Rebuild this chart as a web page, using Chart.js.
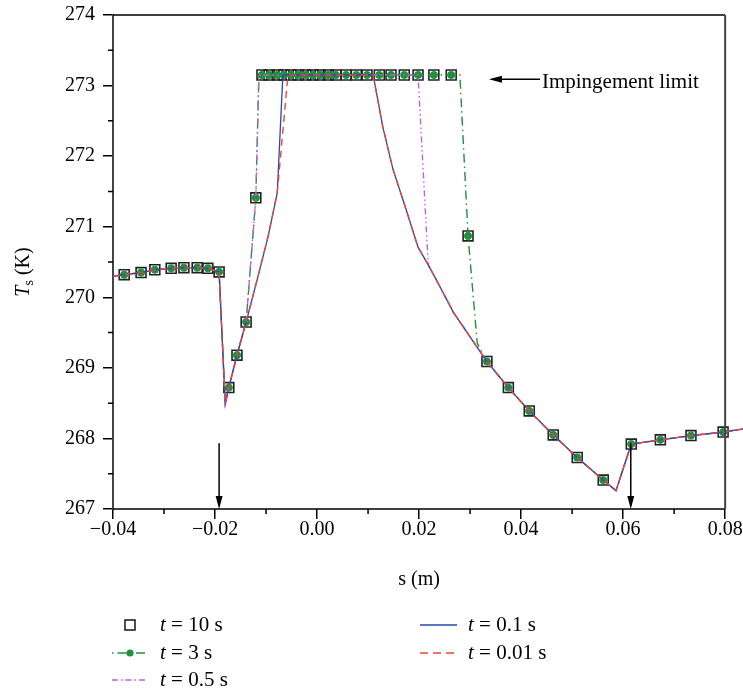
<!DOCTYPE html>
<html>
  <head>
    <meta charset="utf-8">
    <title>Ts vs s</title>
    <script src="https://cdn.jsdelivr.net/npm/chart.js"></script>
    <style>
      body { margin: 0; background: #fff; }
    </style>
  </head>
  <body>
    <canvas id="myChart" width="743" height="691"></canvas>
    <script>
      // t = 10 s (marcadores)
      const sMark = [-0.0378, -0.0345, -0.0318, -0.0286, -0.0261, -0.0235, -0.0214, -0.0192,
        -0.0173, -0.0157, -0.0139, -0.0120,
        -0.0108, -0.0094, -0.0078, -0.0065, -0.0051, -0.0037, -0.0022, -0.0008, 0.0006, 0.0022,
        0.0037, 0.0057, 0.0077, 0.0098, 0.0122, 0.0145, 0.0171, 0.0198, 0.0229, 0.0263,
        0.0296, 0.0333, 0.0375, 0.0416, 0.0463, 0.0510, 0.0561, 0.0616, 0.0673, 0.0733, 0.0796];
      const tMark = [270.32, 270.35, 270.39, 270.41, 270.42, 270.42, 270.41, 270.36,
        268.72, 269.18, 269.65, 271.41,
        273.15, 273.15, 273.15, 273.15, 273.15, 273.15, 273.15, 273.15, 273.15, 273.15,
        273.15, 273.15, 273.15, 273.15, 273.15, 273.15, 273.15, 273.15, 273.15, 273.15,
        270.87, 269.09, 268.72, 268.39, 268.05, 267.73, 267.41, 267.92, 267.98, 268.04, 268.09];

      // t = 3 s
      const s3 = [-0.0400, -0.0378, -0.0345, -0.0318, -0.0286, -0.0261, -0.0235, -0.0214, -0.0192, -0.0180,
        -0.0173, -0.0157, -0.0139, -0.0120, -0.0114,
        -0.0108, -0.0094, -0.0078, -0.0065, -0.0051, -0.0037, -0.0022, -0.0008, 0.0006, 0.0022,
        0.0037, 0.0057, 0.0077, 0.0098, 0.0122, 0.0145, 0.0171, 0.0198, 0.0229, 0.0263,
        0.0280, 0.0296, 0.0314, 0.0333, 0.0375, 0.0416, 0.0463, 0.0510, 0.0561, 0.0586,
        0.0616, 0.0673, 0.0733, 0.0796, 0.0840];
      const t3 = [270.30, 270.32, 270.35, 270.39, 270.41, 270.42, 270.42, 270.41, 270.36, 268.49,
        268.72, 269.18, 269.65, 271.41, 273.15,
        273.15, 273.15, 273.15, 273.15, 273.15, 273.15, 273.15, 273.15, 273.15, 273.15,
        273.15, 273.15, 273.15, 273.15, 273.15, 273.15, 273.15, 273.15, 273.15, 273.15,
        273.15, 270.87, 269.35, 269.09, 268.72, 268.39, 268.05, 267.73, 267.41, 267.26,
        267.92, 267.98, 268.04, 268.09, 268.14];

      // t = 0.5 s
      const s05 = [-0.0400, -0.0378, -0.0345, -0.0318, -0.0286, -0.0261, -0.0235, -0.0214, -0.0192, -0.0180,
        -0.0173, -0.0157, -0.0139, -0.0120, -0.0114, 0.0198, 0.0218,
        0.0241, 0.0267, 0.0300, 0.0333, 0.0375, 0.0416, 0.0463, 0.0510, 0.0561, 0.0586,
        0.0616, 0.0673, 0.0733, 0.0796, 0.0840];
      const t05 = [270.30, 270.32, 270.35, 270.39, 270.41, 270.42, 270.42, 270.41, 270.36, 268.49,
        268.72, 269.18, 269.65, 271.41, 273.15, 273.15, 270.46,
        270.15, 269.79, 269.44, 269.09, 268.72, 268.39, 268.05, 267.73, 267.41, 267.26,
        267.92, 267.98, 268.04, 268.09, 268.14];

      // t = 0.1 s
      const s01 = [-0.0400, -0.0378, -0.0345, -0.0318, -0.0286, -0.0261, -0.0235, -0.0214, -0.0192, -0.0180,
        -0.0173, -0.0157, -0.0139, -0.0116, -0.0096, -0.0078, -0.0067, 0.0110,
        0.0129, 0.0149, 0.0173, 0.0198, 0.0218, 0.0241, 0.0267, 0.0300, 0.0333, 0.0375,
        0.0416, 0.0463, 0.0510, 0.0561, 0.0586, 0.0616, 0.0673, 0.0733, 0.0796, 0.0840];
      const t01 = [270.30, 270.32, 270.35, 270.39, 270.41, 270.42, 270.42, 270.41, 270.36, 268.49,
        268.72, 269.18, 269.65, 270.29, 270.86, 271.48, 273.15, 273.15,
        272.41, 271.81, 271.28, 270.71, 270.46, 270.15, 269.79, 269.44, 269.09, 268.72,
        268.39, 268.05, 267.73, 267.41, 267.26, 267.92, 267.98, 268.04, 268.09, 268.14];

      // t = 0.01 s
      const s001 = [-0.0400, -0.0378, -0.0345, -0.0318, -0.0286, -0.0261, -0.0235, -0.0214, -0.0192, -0.0180,
        -0.0173, -0.0157, -0.0139, -0.0116, -0.0096, -0.0078, -0.0057, 0.0110,
        0.0129, 0.0149, 0.0173, 0.0198, 0.0218, 0.0241, 0.0267, 0.0300, 0.0333, 0.0375,
        0.0416, 0.0463, 0.0510, 0.0561, 0.0586, 0.0616, 0.0673, 0.0733, 0.0796, 0.0840];
      const t001 = [270.30, 270.32, 270.35, 270.39, 270.41, 270.42, 270.42, 270.41, 270.36, 268.49,
        268.72, 269.18, 269.65, 270.29, 270.86, 271.48, 273.15, 273.15,
        272.41, 271.81, 271.28, 270.71, 270.46, 270.15, 269.79, 269.44, 269.09, 268.72,
        268.39, 268.05, 267.73, 267.41, 267.26, 267.92, 267.98, 268.04, 268.09, 268.14];

      const xTicks = [-0.04, -0.02, 0.00, 0.02, 0.04, 0.06, 0.08];
      const yTicks = [267, 268, 269, 270, 271, 272, 273, 274];

      const GREEN = 'rgb(30,145,60)';
      const MAGENTA = 'rgb(195,95,215)';
      const BLUE = 'rgb(40,70,180)';
      const RED = 'rgb(232,70,55)';
      const SERIF = '"Liberation Serif", "DejaVu Serif", serif';

      const pts = (xs, ys) => xs.map((x, i) => ({x: x, y: ys[i]}));

      const data = {
        datasets: [
          {
            label: 't = 0.01 s', data: pts(s001, t001), borderColor: RED, borderWidth: 1.4,
            borderDash: [7, 5], pointRadius: 0, order: 1
          },
          {
            label: 't = 0.1 s', data: pts(s01, t01), borderColor: BLUE, borderWidth: 1.3,
            pointRadius: 0, order: 2
          },
          {
            label: 't = 0.5 s', data: pts(s05, t05), borderColor: MAGENTA, borderWidth: 1.4,
            borderDash: [6, 3, 1.5, 3, 1.5, 3], pointRadius: 0, order: 3
          },
          {
            label: 't = 3 s', data: pts(s3, t3), borderColor: GREEN, borderWidth: 1.4,
            borderDash: [9, 4, 1.5, 4],
            pointRadius: s3.map(x => sMark.includes(x) ? 3.6 : 0),
            pointBackgroundColor: GREEN, pointBorderColor: GREEN, pointBorderWidth: 1, order: 4
          },
          {
            label: 't = 10 s', data: pts(sMark, tMark), showLine: false,
            pointStyle: 'rect', pointRadius: 7, pointBorderWidth: 1.6,
            pointBorderColor: '#222', pointBackgroundColor: 'rgba(255,255,255,0)', order: 5
          }
        ]
      };

      // Moldura, ticks menores, setas, títulos e legenda
      const extras = {
        id: 'extras',
        afterDraw(chart) {
          const ctx = chart.ctx;
          const xs = chart.scales.x, ys = chart.scales.y;
          const L = chart.chartArea.left, T = chart.chartArea.top, B = chart.chartArea.bottom;
          const R = xs.getPixelForValue(0.08);
          ctx.save();
          // moldura
          ctx.strokeStyle = '#000';
          ctx.lineWidth = 1.5;
          ctx.beginPath();
          ctx.moveTo(L, B); ctx.lineTo(R, B);
          ctx.moveTo(L, T); ctx.lineTo(R, T);
          ctx.stroke();
          ctx.strokeStyle = '#444';
          ctx.lineWidth = 2;
          ctx.beginPath();
          ctx.moveTo(R, T); ctx.lineTo(R, B);
          ctx.stroke();
          // ticks menores
          ctx.strokeStyle = '#000';
          ctx.lineWidth = 1.5;
          ctx.beginPath();
          for (let v = -0.03; v < 0.08; v += 0.02) {
            const px = xs.getPixelForValue(v);
            ctx.moveTo(px, B); ctx.lineTo(px, B + 5);
          }
          for (let v = 267.5; v < 274; v += 1) {
            const py = ys.getPixelForValue(v);
            ctx.moveTo(L - 5, py); ctx.lineTo(L, py);
          }
          ctx.stroke();

          // setas verticais
          const vArrow = (xv, y0, y1) => {
            const px = xs.getPixelForValue(xv);
            const p0 = ys.getPixelForValue(y0), p1 = ys.getPixelForValue(y1);
            ctx.strokeStyle = '#000';
            ctx.fillStyle = '#000';
            ctx.lineWidth = 1.5;
            ctx.beginPath();
            ctx.moveTo(px, p0); ctx.lineTo(px, p1 - 10);
            ctx.stroke();
            ctx.beginPath();
            ctx.moveTo(px, p1);
            ctx.lineTo(px - 3.5, p1 - 13);
            ctx.lineTo(px + 3.5, p1 - 13);
            ctx.closePath();
            ctx.fill();
          };
          vArrow(-0.0192, 267.93, 267);
          vArrow(0.0615, 267.93, 267);

          // seta horizontal + texto
          const ax0 = xs.getPixelForValue(0.0337), ay = ys.getPixelForValue(273.09);
          const ax1 = ax0 + 51;
          ctx.beginPath();
          ctx.moveTo(ax1, ay); ctx.lineTo(ax0 + 10, ay);
          ctx.stroke();
          ctx.beginPath();
          ctx.moveTo(ax0, ay);
          ctx.lineTo(ax0 + 13, ay - 3.5);
          ctx.lineTo(ax0 + 13, ay + 3.5);
          ctx.closePath();
          ctx.fill();
          ctx.font = '21px ' + SERIF;
          ctx.textBaseline = 'middle';
          ctx.textAlign = 'left';
          ctx.fillText('Impingement limit', ax1 + 2, ay + 3);

          // título eixo x
          ctx.font = '20px ' + SERIF;
          ctx.textAlign = 'center';
          ctx.fillText('s (m)', (L + R) / 2, 580);

          // título eixo y
          ctx.save();
          ctx.translate(24, 272);
          ctx.rotate(-Math.PI / 2);
          const fT = 'italic 20px ' + SERIF, fS = '14px ' + SERIF, fK = '20px ' + SERIF;
          ctx.font = fT; const wT = ctx.measureText('T').width;
          ctx.font = fS; const wS = ctx.measureText('s').width;
          ctx.font = fK; const wK = ctx.measureText(' (K)').width;
          let cx = -(wT + wS + wK) / 2;
          ctx.textAlign = 'left';
          ctx.font = fT; ctx.fillText('T', cx, 0); cx += wT;
          ctx.font = fS; ctx.fillText('s', cx, 5); cx += wS;
          ctx.font = fK; ctx.fillText(' (K)', cx, 0);
          ctx.restore();

          // legenda
          const label = (x, y, rest) => {
            ctx.textAlign = 'left';
            ctx.textBaseline = 'middle';
            ctx.fillStyle = '#000';
            ctx.font = 'italic 21px ' + SERIF;
            ctx.fillText('t', x, y);
            const w = ctx.measureText('t').width;
            ctx.font = '21px ' + SERIF;
            ctx.fillText(rest, x + w, y);
          };
          const seg = (x0, x1, y, color, dash, lw) => {
            ctx.save();
            ctx.strokeStyle = color;
            ctx.lineWidth = lw;
            ctx.setLineDash(dash);
            ctx.beginPath();
            ctx.moveTo(x0, y); ctx.lineTo(x1, y);
            ctx.stroke();
            ctx.restore();
          };
          // t = 10 s
          ctx.strokeStyle = '#222';
          ctx.lineWidth = 1.6;
          ctx.strokeRect(125, 620, 10, 10);
          label(160, 625, ' = 10 s');
          // t = 3 s
          seg(112, 148, 653, GREEN, [1.5, 4, 9, 4], 1.4);
          ctx.fillStyle = GREEN;
          ctx.beginPath(); ctx.arc(130, 653, 3.6, 0, Math.PI * 2); ctx.fill();
          label(160, 653, ' = 3 s');
          // t = 0.5 s
          seg(112, 148, 680, MAGENTA, [6, 3, 1.5, 3], 1.4);
          label(160, 680, ' = 0.5 s');
          // t = 0.1 s
          seg(420, 457, 625, BLUE, [], 1.3);
          label(468, 625, ' = 0.1 s');
          // t = 0.01 s
          seg(420, 457, 653, RED, [8, 5], 1.4);
          label(468, 653, ' = 0.01 s');
          ctx.restore();
        }
      };

      const options = {
        responsive: false,
        animation: false,
        layout: { autoPadding: false, padding: { top: 15, left: 0, right: 0, bottom: 0 } },
        plugins: { legend: { display: false }, tooltip: { enabled: false } },
        scales: {
          x: {
            type: 'linear',
            min: -0.04,
            max: 0.0835,
            afterBuildTicks: (scale) => { scale.ticks = xTicks.map(v => ({value: v})); },
            afterFit: (scale) => { scale.height = 182; scale.paddingLeft = 0; scale.paddingRight = 0; },
            grid: { drawOnChartArea: false, drawTicks: true, tickLength: 10, color: '#000', lineWidth: 1.5 },
            border: { display: false },
            ticks: {
              padding: 1,
              color: '#000',
              maxRotation: 0,
              font: { family: SERIF, size: 20, lineHeight: 1 },
              callback: (v) => (v < 0 ? '\u2212' : '') + Math.abs(v).toFixed(2)
            }
          },
          y: {
            type: 'linear',
            min: 267,
            max: 274,
            afterBuildTicks: (scale) => { scale.ticks = yTicks.map(v => ({value: v})); },
            afterFit: (scale) => { scale.width = 113; scale.paddingTop = 0; scale.paddingBottom = 0; },
            grid: { drawOnChartArea: false, drawTicks: true, tickLength: 10, color: '#000', lineWidth: 1.5 },
            border: { display: true, color: '#444', width: 2 },
            ticks: {
              padding: 8,
              color: '#000',
              font: { family: SERIF, size: 20 },
              callback: (v) => String(v)
            }
          }
        }
      };

      const ctx = document.getElementById('myChart').getContext('2d');
      new Chart(ctx, {
        type: 'line',
        data: data,
        options: options,
        plugins: [extras]
      });
    </script>
  </body>
</html>
